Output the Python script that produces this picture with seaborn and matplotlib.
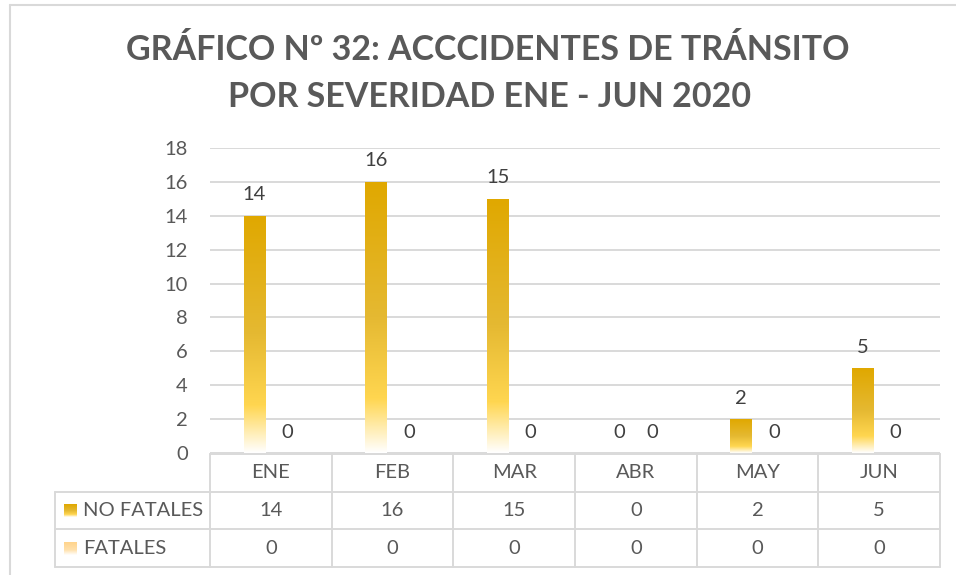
import numpy as np
import pandas as pd
import matplotlib
matplotlib.use("Agg")
import matplotlib.pyplot as plt
from matplotlib.lines import Line2D
import seaborn as sns

# ---- data ----
meses = ["ENE", "FEB", "MAR", "ABR", "MAY", "JUN"]
series = ["NO FATALES", "FATALES"]
no_fatales = [14, 16, 15, 0, 2, 5]
fatales = [0, 0, 0, 0, 0, 0]
y_ticks = [0, 2, 4, 6, 8, 10, 12, 14, 16, 18]
titulo = ["GRÁFICO Nº 32: ACCCIDENTES DE TRÁNSITO", "POR SEVERIDAD ENE - JUN 2020"]

df = pd.DataFrame({
    "mes": meses * 2,
    "serie": [series[0]] * len(meses) + [series[1]] * len(meses),
    "valor": no_fatales + fatales,
})

sns.set_theme(style="white")
plt.rcParams["font.family"] = ["Lato", "DejaVu Sans"]

GRID = "#D9D9D9"
TXT = "#595959"
LBL = "#404040"

# gradient definitions (top -> bottom)
grad_stops = {
    series[0]: [(0.0, (224, 168, 0)), (0.5, (229, 185, 50)), (0.8, (255, 214, 80)), (1.0, (255, 255, 255))],
    series[1]: [(0.0, (255, 212, 140)), (0.6, (255, 224, 170)), (1.0, (255, 255, 255))],
}


def make_grad(stops, n=256):
    t = np.linspace(0, 1, n)
    pos = [s[0] for s in stops]
    arr = np.zeros((n, 1, 3))
    for c in range(3):
        arr[:, 0, c] = np.interp(t, pos, [s[1][c] / 255 for s in stops])
    return arr


W, H = 956, 575
fig = plt.figure(figsize=(W / 100, H / 100), dpi=100)

ax_l, ax_r, ax_t, ax_b = 210, 940, 148, 453
ax = fig.add_axes([ax_l / W, 1 - ax_b / H, (ax_r - ax_l) / W, (ax_b - ax_t) / H])

sns.barplot(data=df, x="mes", y="valor", hue="serie", hue_order=series, order=meses,
            palette=["#E0A800", "#FFD58C"], width=0.545, gap=0.36, legend=False,
            errorbar=None, ax=ax)

ax.set_xlim(-0.5, len(meses) - 0.5)
ax.set_ylim(0, 18)
ax.set_yticks(y_ticks)
ax.yaxis.grid(True, color=GRID, lw=1.4)
ax.xaxis.grid(False)
ax.set_axisbelow(True)
for s in ax.spines.values():
    s.set_visible(False)
ax.tick_params(axis="y", length=0, pad=16, labelsize=14.5, labelcolor=TXT)
ax.tick_params(axis="x", length=0, labelbottom=False)
ax.set_xlabel("")
ax.set_ylabel("")

# gradient fills + labels
for cont, name in zip(ax.containers, series):
    g = make_grad(grad_stops[name])
    for p in cont.patches:
        x0, y0 = p.get_x(), p.get_y()
        w, h = p.get_width(), p.get_height()
        if h > 0:
            im = ax.imshow(g, extent=[x0, x0 + w, y0, y0 + h], aspect="auto",
                           origin="upper", interpolation="bilinear", zorder=p.get_zorder())
            im.set_clip_path(p)
        p.set_facecolor("none")
        p.set_edgecolor("none")
    ax.bar_label(cont, labels=[f"{v:g}" for v in cont.datavalues], padding=9,
                 fontsize=14.5, color=LBL)

ax.set_xlim(-0.5, len(meses) - 0.5)
ax.set_ylim(0, 18)

# ---- data table ----
tb_top, tb_bot = 454, 567
tax = fig.add_axes([ax_l / W, 1 - tb_bot / H, (ax_r - ax_l) / W, (tb_bot - tb_top) / H])
tax.set_xlim(-0.5, len(meses) - 0.5)
tax.set_ylim(3, 0)
tax.axis("off")
col_w = (ax_r - ax_l) / len(meses)
x_lab = -0.5 - (ax_l - 55) / col_w
lw = 1.4
n = len(meses)
tax.plot([-0.5, n - 0.5], [0, 0], color=GRID, lw=lw, clip_on=False)
for yy in [1, 2, 3]:
    tax.plot([x_lab, n - 0.5], [yy, yy], color=GRID, lw=lw, clip_on=False)
tax.plot([x_lab, x_lab], [1, 3], color=GRID, lw=lw, clip_on=False)
for k in range(n + 1):
    tax.plot([k - 0.5, k - 0.5], [0, 3], color=GRID, lw=lw, clip_on=False)

for i, m in enumerate(meses):
    tax.text(i, 0.5, m, ha="center", va="center", fontsize=14.5, color=TXT)
for r, vals in enumerate([no_fatales, fatales]):
    for i, v in enumerate(vals):
        tax.text(i, 1.5 + r, f"{v:g}", ha="center", va="center", fontsize=14.5, color=TXT)

key_x0 = -0.5 + (64 - ax_l) / col_w
key_x1 = -0.5 + (77 - ax_l) / col_w
txt_x = -0.5 + (83 - ax_l) / col_w
for r, name in enumerate(series):
    g = make_grad(grad_stops[name])
    im = tax.imshow(g, extent=[key_x0, key_x1, 1.68 + r, 1.34 + r], aspect="auto",
                    origin="upper", interpolation="bilinear")
    im.set_clip_on(False)
    tax.text(txt_x, 1.5 + r, name, ha="left", va="center", fontsize=14.5, color=TXT)
tax.set_xlim(-0.5, n - 0.5)
tax.set_ylim(3, 0)

# ---- title ----
fig.text(488 / W, 1 - 59.5 / H, titulo[0], ha="center", va="baseline",
         fontsize=24.5, fontweight="bold", color=TXT)
fig.text(490 / W, 1 - 107 / H, titulo[1], ha="center", va="baseline",
         fontsize=24.5, fontweight="bold", color=TXT)

# ---- chart border (left & top) ----
fig.add_artist(Line2D([10 / W, 10 / W], [0, 1 - 5 / H], color=GRID, lw=1.5))
fig.add_artist(Line2D([10 / W, 1], [1 - 5 / H, 1 - 5 / H], color=GRID, lw=1.5))

fig.savefig("out.png", dpi=100, facecolor="white")
